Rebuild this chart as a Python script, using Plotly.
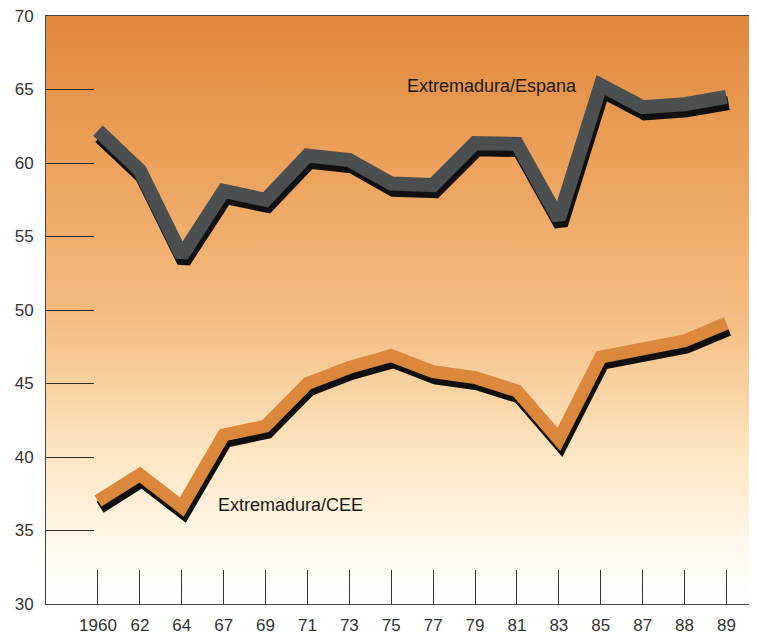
import plotly.graph_objects as go

# ---- data ----
years = ["1960", "62", "64", "67", "69", "71", "73", "75", "77", "79", "81", "83", "85", "87", "88", "89"]
espana = [62.2, 59.5, 53.7, 58.1, 57.5, 60.5, 60.2, 58.6, 58.5, 61.35, 61.3, 56.2, 65.3, 63.8, 64.0, 64.5]
cee = [37.0, 38.8, 36.6, 41.5, 42.1, 45.0, 46.1, 46.9, 45.8, 45.4, 44.5, 41.2, 46.8, 47.4, 47.9, 49.1]
y_ticks = [30, 35, 40, 45, 50, 55, 60, 65, 70]

# ---- styling ----
FONT = "Liberation Sans, Arial, sans-serif"
SHADOW_DY = 0.42      # shadow offset in data units (downwards)
SHADOW_DX = 0.05      # shadow offset in category units (to the right)
X_RANGE = [-1.241, 15.73]
Y_RANGE = [30, 70]

idx = list(range(len(years)))

fig = go.Figure()

# gradient background of the plotting area
fig.add_trace(go.Scatter(
    x=[X_RANGE[0], X_RANGE[1], X_RANGE[1], X_RANGE[0], X_RANGE[0]],
    y=[Y_RANGE[0], Y_RANGE[0], Y_RANGE[1], Y_RANGE[1], Y_RANGE[0]],
    mode="lines", line=dict(width=0), fill="toself",
    fillgradient=dict(
        type="vertical", start=Y_RANGE[0], stop=Y_RANGE[1],
        colorscale=[[0.0, "#ffffff"], [0.07, "#fffbf3"], [0.25, "#fce6c3"],
                    [0.5, "#f4bb7e"], [0.75, "#eca15b"], [1.0, "#e0893d"]],
    ),
    hoverinfo="skip", showlegend=False,
))


def ribbon(values, face, width):
    # shadow
    fig.add_trace(go.Scatter(
        x=[i + SHADOW_DX for i in idx], y=[v - SHADOW_DY for v in values],
        mode="lines", line=dict(color="#101010", width=width),
        hoverinfo="skip", showlegend=False,
    ))
    # face
    fig.add_trace(go.Scatter(
        x=idx, y=values, mode="lines", line=dict(color=face, width=width),
        showlegend=False,
    ))


ribbon(espana, "#4b4f4f", 14)
ribbon(cee, "#db873c", 13)

fig.add_annotation(x=7.33, y=65.25, text="Extremadura/Espana", showarrow=False,
                   xanchor="left", yanchor="middle",
                   font=dict(family=FONT, size=18, color="#1a1a1a"))
fig.add_annotation(x=2.82, y=36.75, text="Extremadura/CEE", showarrow=False,
                   xanchor="left", yanchor="middle",
                   font=dict(family=FONT, size=18, color="#1a1a1a"))

# the page places the figure 8 px from the window's top-left corner
fig.update_layout(
    width=749, height=626,
    margin=dict(l=38, r=0, t=8, b=30, autoexpand=False),
    paper_bgcolor="#ffffff", plot_bgcolor="#ffffff",
    showlegend=False,
    xaxis=dict(
        range=X_RANGE, tickmode="array", tickvals=idx, ticktext=years,
        ticks="inside", ticklen=34, tickwidth=1, tickcolor="#333333",
        showline=True, linecolor="#444444", linewidth=1, mirror=True,
        showgrid=False, zeroline=False, automargin=False,
        tickfont=dict(family=FONT, size=17, color="#333333"),
        ticklabelstandoff=6, ticklabeloverflow="allow",
    ),
    yaxis=dict(
        range=Y_RANGE, tickmode="array", tickvals=y_ticks,
        ticks="inside", ticklen=48, tickwidth=1.2, tickcolor="#2a2a2a",
        showline=True, linecolor="#444444", linewidth=1,
        showgrid=False, zeroline=False, automargin=False,
        tickfont=dict(family=FONT, size=17, color="#333333"),
        ticklabelstandoff=8, ticklabeloverflow="allow",
    ),
)

fig.write_html("out.html")
